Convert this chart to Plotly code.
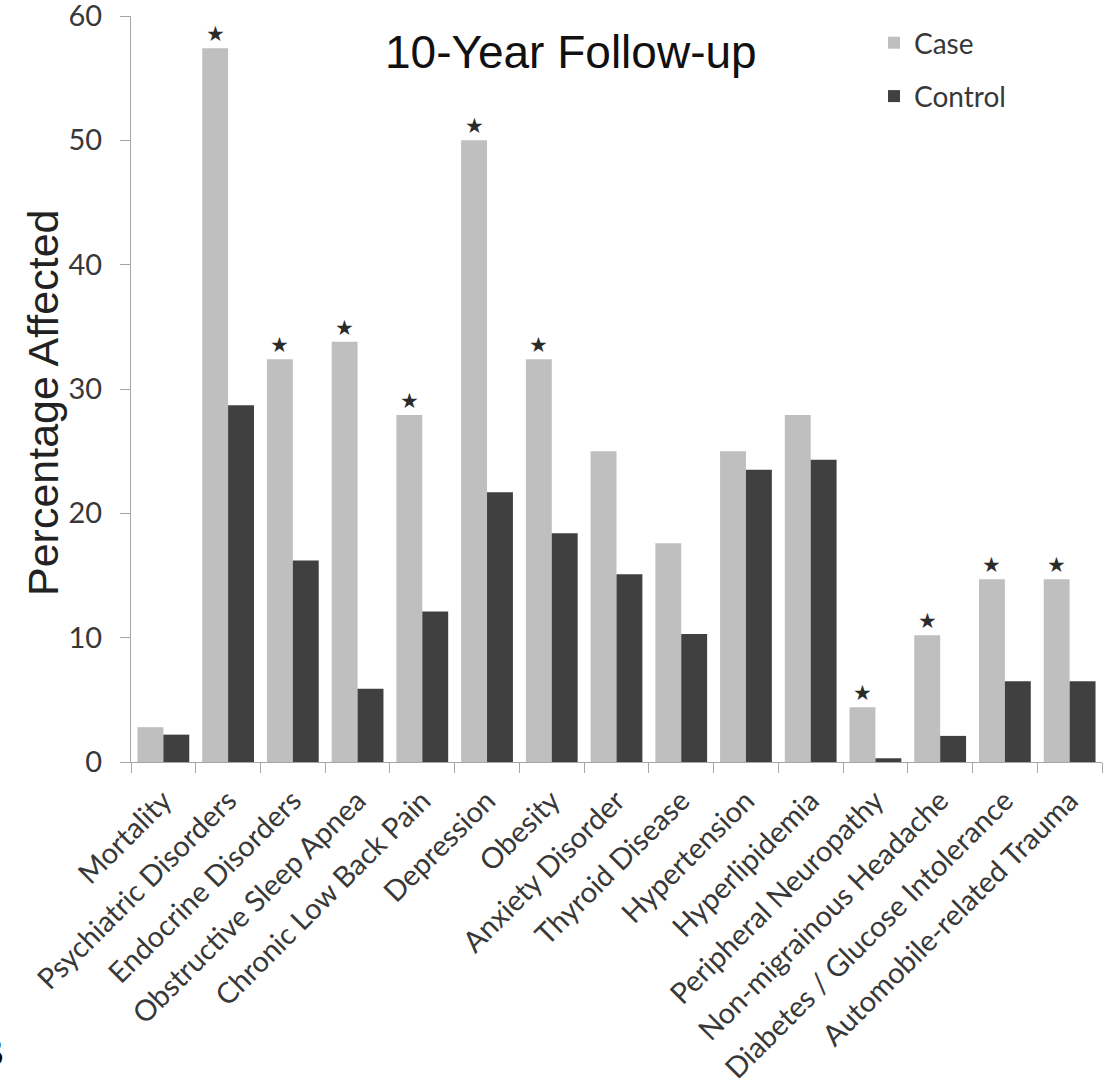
import plotly.graph_objects as go

# ---- data -------------------------------------------------------------
categories = [
    "Mortality", "Psychiatric Disorders", "Endocrine Disorders",
    "Obstructive Sleep Apnea", "Chronic Low Back Pain", "Depression",
    "Obesity", "Anxiety Disorder", "Thyroid Disease", "Hypertension",
    "Hyperlipidemia", "Peripheral Neuropathy", "Non-migrainous Headache",
    "Diabetes / Glucose Intolerance", "Automobile-related Trauma",
]
case_pct = [2.8, 57.4, 32.4, 33.8, 27.9, 50.0, 32.4, 25.0, 17.6, 25.0,
            27.9, 4.4, 10.2, 14.7, 14.7]
control_pct = [2.2, 28.7, 16.2, 5.9, 12.1, 21.7, 18.4, 15.1, 10.3, 23.5,
               24.3, 0.3, 2.1, 6.5, 6.5]
significant = [False, True, True, True, True, True, True, False, False,
               False, False, True, True, True, True]
y_ticks = [0, 10, 20, 30, 40, 50, 60]

# ---- styling ----------------------------------------------------------
W, H = 1115, 1083
M_L, M_R, M_T, M_B = 131, 13, 16, 321
CASE_COLOR = "#bfbfbf"
CONTROL_COLOR = "#404040"
AXIS_COLOR = "#a6a6a6"
TICK_FONT = dict(family="Lato, Open Sans, sans-serif", size=29, color="#383838")
ARIAL = "Liberation Sans, Arial, sans-serif"

plot_w = W - M_L - M_R
plot_h = H - M_T - M_B


def px_x(px):
    return (px - M_L) / plot_w


def px_y(py):
    return (H - M_B - py) / plot_h


fig = go.Figure()
fig.add_bar(x=categories, y=case_pct, name="Case", marker_color=CASE_COLOR,
            marker_line_width=0, legendgroup="case")
fig.add_bar(x=categories, y=control_pct, name="Control",
            marker_color=CONTROL_COLOR, marker_line_width=0,
            legendgroup="control")

annotations = []
# significance stars above the case bars
bar_w = plot_w / len(categories) * 0.8 / 2
for cat, val, sig in zip(categories, case_pct, significant):
    if sig:
        annotations.append(dict(
            x=cat, y=val, xref="x", yref="y", text="★", showarrow=False,
            xshift=-bar_w / 2, yshift=0, yanchor="bottom",
            font=dict(family="DejaVu Sans", size=21, color="#2b2b2b"),
        ))

# chart title
annotations.append(dict(
    x=px_x(571), y=px_y(52), xref="paper", yref="paper",
    text="10-Year Follow-up", showarrow=False, xanchor="center",
    yanchor="middle", font=dict(family=ARIAL, size=46, color="#111111"),
))
# y-axis title
annotations.append(dict(
    x=px_x(43), y=px_y(403), xref="paper", yref="paper",
    text="Percentage Affected", showarrow=False, textangle=-90,
    xanchor="center", yanchor="middle",
    font=dict(family=ARIAL, size=43, color="#222222"),
))
# panel letter
annotations.append(dict(
    x=px_x(6), y=px_y(1052), xref="paper", yref="paper", text="<b>B</b>",
    showarrow=False, xanchor="right", yanchor="middle",
    font=dict(family=ARIAL, size=40, color="#000000"),
))

fig.update_layout(
    width=W, height=H,
    margin=dict(l=M_L, r=M_R, t=M_T, b=M_B, autoexpand=False),
    paper_bgcolor="white", plot_bgcolor="white",
    barmode="group", bargap=0.2, bargroupgap=0,
    showlegend=True,
    legend=dict(
        x=px_x(874), y=px_y(18), xanchor="left", yanchor="top",
        font=dict(family="Lato, Open Sans, sans-serif", size=28,
                  color="#383838"),
        tracegroupgap=14, bgcolor="rgba(0,0,0,0)", itemsizing="constant",
    ),
    annotations=annotations,
)

fig.update_xaxes(
    type="category", range=[-0.5, len(categories) - 0.5],
    showline=True, linecolor=AXIS_COLOR, linewidth=1.3,
    ticks="outside", tickson="boundaries", ticklen=10, tickcolor=AXIS_COLOR,
    tickwidth=1.3, tickangle=-45, tickfont=TICK_FONT, showgrid=False,
    ticklabelstandoff=9,
)
fig.update_yaxes(
    range=[0, 60], tickvals=y_ticks, showline=True, linecolor=AXIS_COLOR,
    linewidth=1.3, ticks="outside", ticklen=10, tickcolor=AXIS_COLOR,
    tickwidth=1.3, tickfont=TICK_FONT, showgrid=False, zeroline=False,
    ticklabelstandoff=12, ticklabeloverflow="allow",
)

fig.write_html("out.html")
